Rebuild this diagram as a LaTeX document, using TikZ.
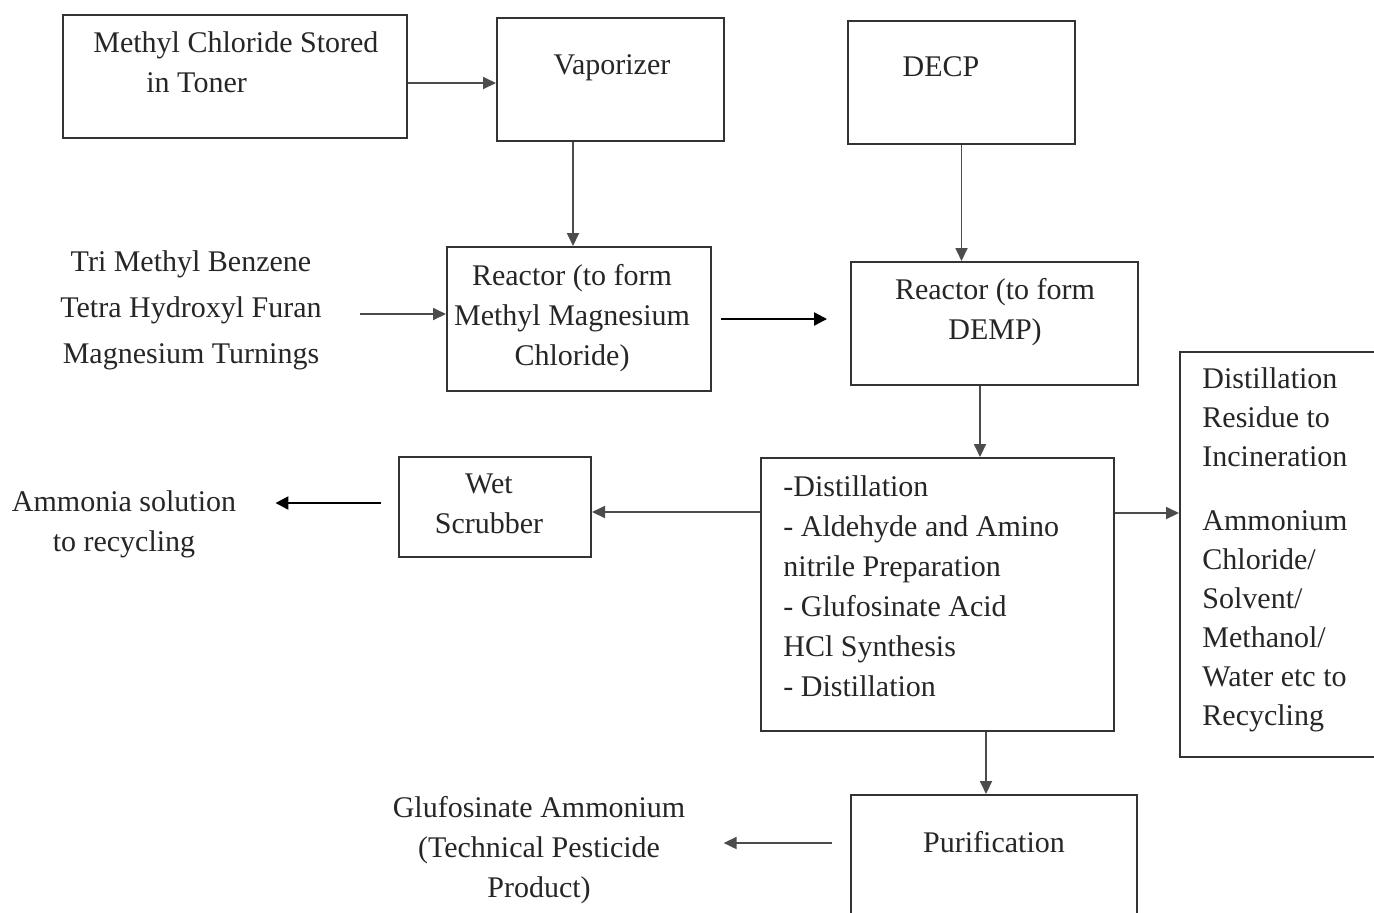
\documentclass[tikz,border=0pt]{standalone}
\usepackage{fontspec}
\setmainfont{Liberation Serif}
\usetikzlibrary{arrows.meta,positioning,calc}

\begin{document}
\begin{tikzpicture}[
    x=0.5pt, y=-0.5pt,
    box/.style={rectangle, draw=black!80, line width=1pt, inner sep=0pt},
    txt/.style={inner sep=0pt, font=\fontsize{15pt}{20pt}\selectfont, text=black!85},
    arrow/.style={-{Triangle[length=6.5pt, width=6pt]}, draw=black!70, line width=0.9pt},
    thickarrow/.style={-{Triangle[length=6.5pt, width=6.5pt]}, draw=black, line width=1.2pt}
]

% Canvas
\path[fill=white, use as bounding box] (0,0) rectangle (1374,912);

% Boxes
\node[box, minimum width=172pt, minimum height=61.5pt] (toner) at (235,76.5) {};
\node[box, minimum width=113.5pt, minimum height=61.5pt] (vap) at (610.5,79.5) {};
\node[box, minimum width=113.5pt, minimum height=61.5pt] (decp) at (961.5,82.5) {};
\node[box, minimum width=132pt, minimum height=72pt] (reac1) at (579,319) {};
\node[box, minimum width=143.5pt, minimum height=61.5pt] (reac2) at (994.5,323.5) {};
\node[box, minimum width=96pt, minimum height=50pt] (scrub) at (495,507) {};
\node[box, minimum width=176.5pt, minimum height=136.5pt] (dist) at (937.5,594.5) {};
\node[box, minimum width=105pt, minimum height=202.5pt] (resid) at (1285,554.5) {};
\node[box, minimum width=143pt, minimum height=67.5pt] (purif) at (994,862.5) {};

% Labels
\node[txt, align=left, anchor=west] (tonerlbl) at (93,62) {Methyl Chloride Stored\\\hspace*{26.5pt}in Toner};
\node[txt] (vaplbl) at (612,68) {Vaporizer};
\node[txt] (decplbl) at (941,67) {DECP};
\node[txt, align=center] (reac1lbl) at (572,318) {Reactor (to form\\Methyl Magnesium\\Chloride)};
\node[txt, align=center] (reac2lbl) at (995,312) {Reactor (to form\\DEMP)};
\node[txt, align=center, font=\fontsize{15pt}{23pt}\selectfont] (inputs) at (191,310) {Tri Methyl Benzene\\Tetra Hydroxyl Furan\\Magnesium Turnings};
\node[txt, align=center] (scrublbl) at (489,504) {Wet\\Scrubber};
\node[txt, align=center] (ammonia) at (124,524) {Ammonia solution\\to recycling};
\node[txt, align=left, anchor=west] (distlbl) at (783,586) {-Distillation\\- Aldehyde and Amino\\nitrile Preparation\\- Glufosinate Acid\\HCl Synthesis\\- Distillation};
\node[txt, align=left, anchor=west, font=\fontsize{15pt}{19.5pt}\selectfont] (residlbl) at (1202,550) {Distillation\\Residue to\\Incineration\\[12.5pt]Ammonium\\Chloride/\\Solvent/\\Methanol/\\Water etc to\\Recycling};
\node[txt] (puriflbl) at (994,842) {Purification};
\node[txt, align=center] (gluf) at (539,850) {Glufosinate Ammonium\\(Technical Pesticide\\Product)};

% Arrows
\draw[arrow] ($(toner.east)+(0,6.5)$) -- ($(toner.east -| vap.west)+(0,6.5)$);
\draw[arrow] ($(vap.south)+(-37.5,0)$) -- ($(vap.south |- reac1.north)+(-37.5,0)$);
\draw[arrow] (decp.south) -- (decp.south |- reac2.north);
\draw[arrow, shorten <=19pt] ($(inputs.east |- reac1.west)+(0,-5)$) -- ($(reac1.west)+(0,-5)$);
\draw[thickarrow, shorten <=4.5pt, shorten >=11.5pt] (reac1.east) -- (reac1.east -| reac2.west);
\draw[arrow] ($(reac2.south)+(-14.5,0)$) -- ($(reac2.south |- dist.north)+(-14.5,0)$);
\draw[arrow] ($(dist.west |- scrub.east)+(0,5)$) -- ($(scrub.east)+(0,5)$);
\draw[thickarrow, shorten <=8.5pt, shorten >=19.5pt] ($(scrub.west)+(0,-4)$) -- ($(scrub.west -| ammonia.east)+(0,-4)$);
\draw[arrow] ($(dist.east)+(0,-81.5)$) -- ($(dist.east -| resid.west)+(0,-81.5)$);
\draw[arrow] ($(dist.south)+(48.5,0)$) -- ($(dist.south |- purif.north)+(48.5,0)$);
\draw[arrow, shorten <=9pt, shorten >=19pt] ($(purif.west)+(0,-19.5)$) -- ($(purif.west -| gluf.east)+(0,-19.5)$);

\end{tikzpicture}
\end{document}
